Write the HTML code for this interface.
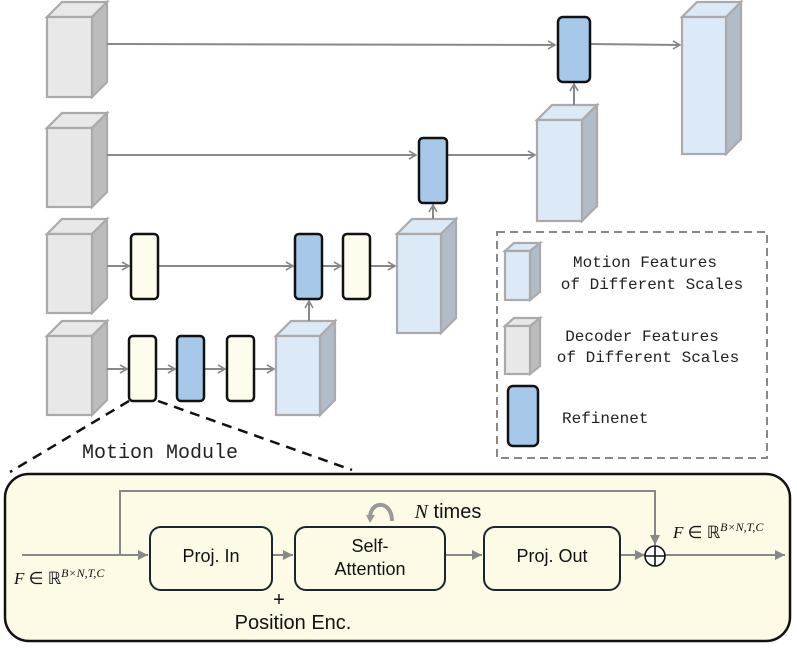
<!DOCTYPE html>
<html><head><style>body{margin:0;background:#fff}svg{display:block}</style></head><body>
<svg width="797" height="649" viewBox="0 0 797 649" xmlns="http://www.w3.org/2000/svg">
<defs>
<marker id="a" markerWidth="10" markerHeight="10" refX="8" refY="5" orient="auto" markerUnits="userSpaceOnUse"><path d="M1,1 L8,5 L1,9" fill="none" stroke="#888" stroke-width="1.6"/></marker>
<marker id="b" markerWidth="12" markerHeight="12" refX="10" refY="6" orient="auto" markerUnits="userSpaceOnUse"><path d="M0,1 L10,6 L0,11 Z" fill="#888"/></marker>
</defs>
<g stroke="#aaa" stroke-width="2.2">
<g fill="#e8e8e8">
<path d="M47,17 L62,2 L107,2 L92,17Z"/><path d="M92,17 L107,2 L107,82 L92,97Z" fill="#bcbcbc"/><rect x="47" y="17" width="45" height="80"/>
<path d="M47,128 L62,113 L107,113 L92,128Z"/><path d="M92,128 L107,113 L107,192 L92,207Z" fill="#bcbcbc"/><rect x="47" y="128" width="45" height="79"/>
<path d="M47,234 L62,219 L107,219 L92,234Z"/><path d="M92,234 L107,219 L107,298 L92,313Z" fill="#bcbcbc"/><rect x="47" y="234" width="45" height="79"/>
<path d="M47,336 L62,321 L107,321 L92,336Z"/><path d="M92,336 L107,321 L107,400 L92,415Z" fill="#bcbcbc"/><rect x="47" y="336" width="45" height="79"/>
</g>
<g fill="#dce9f6">
<path d="M276,336 L291,321 L335,321 L320,336Z"/><path d="M320,336 L335,321 L335,400 L320,415Z" fill="#b0bcc8"/><rect x="276" y="336" width="44" height="79"/>
<path d="M397,234 L412,219 L456,219 L441,234Z"/><path d="M441,234 L456,219 L456,318 L441,333Z" fill="#b0bcc8"/><rect x="397" y="234" width="44" height="99"/>
<path d="M537,120 L552,105 L597,105 L582,120Z"/><path d="M582,120 L597,105 L597,206 L582,221Z" fill="#b0bcc8"/><rect x="537" y="120" width="45" height="101"/>
<path d="M682,17 L697,2 L741,2 L726,17Z"/><path d="M726,17 L741,2 L741,139 L726,154Z" fill="#b0bcc8"/><rect x="682" y="17" width="44" height="137"/>
<path d="M505,251 L514,243 L540,243 L530,251Z"/><path d="M530,251 L540,243 L540,292 L530,300Z" fill="#b0bcc8"/><rect x="505" y="251" width="25" height="49"/>
</g>
<g fill="#e8e8e8">
<path d="M505,326 L514,318 L540,318 L530,326Z"/><path d="M530,326 L540,318 L540,366 L530,374Z" fill="#bcbcbc"/><rect x="505" y="326" width="25" height="48"/>
</g>
</g>
<g stroke="#888" stroke-width="2" fill="none">
<line x1="107" y1="44" x2="555" y2="45" marker-end="url(#a)"/>
<line x1="590" y1="44" x2="680" y2="45" marker-end="url(#a)"/>
<line x1="107" y1="155" x2="416" y2="155" marker-end="url(#a)"/>
<line x1="447" y1="155" x2="535" y2="155" marker-end="url(#a)"/>
<line x1="107" y1="266" x2="129" y2="266" marker-end="url(#a)"/>
<line x1="158" y1="266" x2="293" y2="266" marker-end="url(#a)"/>
<line x1="322" y1="266" x2="341" y2="266" marker-end="url(#a)"/>
<line x1="370" y1="266" x2="395" y2="266" marker-end="url(#a)"/>
<line x1="107" y1="369" x2="127" y2="369" marker-end="url(#a)"/>
<line x1="156" y1="369" x2="175" y2="369" marker-end="url(#a)"/>
<line x1="204" y1="369" x2="225" y2="369" marker-end="url(#a)"/>
<line x1="254" y1="369" x2="274" y2="369" marker-end="url(#a)"/>
<line x1="309" y1="321" x2="309" y2="301" marker-end="url(#a)"/>
<line x1="433" y1="219" x2="433" y2="205" marker-end="url(#a)"/>
<line x1="574" y1="105" x2="574" y2="84" marker-end="url(#a)"/>
</g>
<g stroke="#111" stroke-width="2.5">
<rect x="131" y="234" width="27" height="65" rx="4" fill="#fefded"/>
<rect x="295" y="234" width="27" height="65" rx="4" fill="#a6c9ea"/>
<rect x="343" y="234" width="27" height="65" rx="4" fill="#fefded"/>
<rect x="129" y="336" width="27" height="65" rx="4" fill="#fefded"/>
<rect x="177" y="336" width="27" height="65" rx="4" fill="#a6c9ea"/>
<rect x="227" y="336" width="27" height="65" rx="4" fill="#fefded"/>
<rect x="419" y="138" width="28" height="65" rx="4" fill="#a6c9ea"/>
<rect x="558" y="17" width="32" height="65" rx="5" fill="#a6c9ea"/>
<rect x="508" y="386" width="30" height="60" rx="5" fill="#a6c9ea"/>
</g>
<rect x="497" y="232" width="270" height="226" fill="none" stroke="#888" stroke-width="2" stroke-dasharray="8,5"/>
<g font-family="Liberation Mono, monospace" font-size="16" fill="#222">
<text x="645" y="267" text-anchor="middle">Motion Features</text>
<text x="652" y="289" text-anchor="middle">of Different Scales</text>
<text x="642" y="341" text-anchor="middle">Decoder Features</text>
<text x="648" y="362" text-anchor="middle">of Different Scales</text>
<text x="562" y="423">Refinenet</text>
<text x="82" y="458" font-size="20">Motion Module</text>
</g>
<g stroke="#111" stroke-width="2.5" stroke-dasharray="10,7" fill="none">
<line x1="129" y1="401" x2="10" y2="472"/>
<line x1="158" y1="401" x2="352" y2="470"/>
</g>
<rect x="5" y="474" width="785" height="167" rx="24" fill="#fdfbe5" stroke="#111" stroke-width="2.5"/>
<g stroke="#888" stroke-width="2" fill="none">
<line x1="22" y1="555" x2="148" y2="555" marker-end="url(#b)"/>
<polyline points="120,555 120,491 655,491 655,545" marker-end="url(#b)"/>
<line x1="272" y1="555" x2="293" y2="555" marker-end="url(#b)"/>
<line x1="445" y1="555" x2="482" y2="555" marker-end="url(#b)"/>
<line x1="620" y1="555" x2="645" y2="555" marker-end="url(#b)"/>
<line x1="665" y1="555" x2="785" y2="555" marker-end="url(#b)"/>
<path d="M392,521 C392,500 370,500 370,518" stroke-width="4" stroke="#999"/>
</g>
<path d="M366,515 L370,523 L375,515Z" fill="#999"/>
<g stroke="#1a2530" stroke-width="2" fill="#fdfbe5">
<rect x="150" y="527" width="122" height="63" rx="11"/>
<rect x="295" y="527" width="150" height="63" rx="11"/>
<rect x="484" y="527" width="136" height="63" rx="11"/>
</g>
<circle cx="655" cy="556" r="10" fill="#fff" stroke="#111" stroke-width="1.6"/>
<path d="M655,546 V566 M645,556 H665" stroke="#111" stroke-width="1.6"/>
<g font-family="Liberation Sans, sans-serif" font-size="18" fill="#111" text-anchor="middle">
<text x="211" y="562">Proj. In</text>
<text x="370" y="552">Self-</text>
<text x="370" y="575">Attention</text>
<text x="552" y="562">Proj. Out</text>
<text x="279" y="606" font-size="20">+</text>
<text x="293" y="629" font-size="20">Position Enc.</text>
<text x="448" y="518" font-size="20"><tspan font-family="Liberation Serif, serif" font-style="italic">N</tspan> times</text>
</g>
<g font-family="Liberation Serif, serif" font-size="17" fill="#111">
<text x="14" y="584"><tspan font-style="italic">F</tspan> ∈ ℝ<tspan font-size="12" dy="-7" font-style="italic">B×N,T,C</tspan></text>
<text x="673" y="538"><tspan font-style="italic">F</tspan> ∈ ℝ<tspan font-size="12" dy="-7" font-style="italic">B×N,T,C</tspan></text>
</g>
</svg>
</body></html>
